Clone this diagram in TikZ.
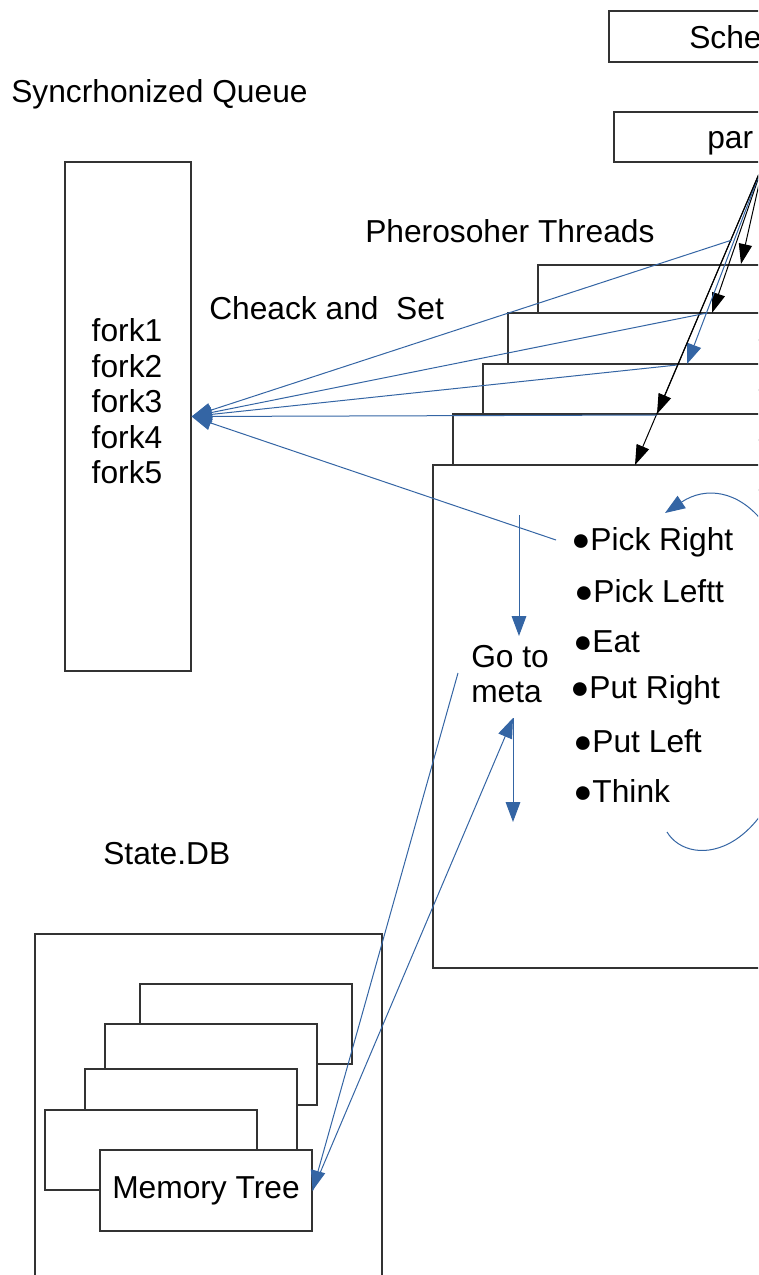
\documentclass[tikz,border=0pt]{standalone}
\usepackage{fontspec}
\setmainfont{Liberation Sans}
\usepackage{xcolor}
\usetikzlibrary{positioning, arrows.meta, fit}

\definecolor{lineblue}{HTML}{3465A4}
\definecolor{edge}{HTML}{333333}

\begin{document}
\begin{tikzpicture}[
    x=0.75pt, y=-0.75pt,
    box/.style={draw=edge, fill=white, line width=0.9pt, inner sep=0pt},
    txt/.style={inner sep=0pt, font=\fontsize{23.8}{26.5}\selectfont},
    item/.style={txt, anchor=base west},
    blk/.style={-{Triangle[length=15pt, width=10pt]}, line width=0.75pt, black},
    blu/.style={-{Triangle[length=15pt, width=11pt]}, line width=0.75pt, lineblue},
]
\useasboundingbox (0,0) rectangle (758,1275);
\clip (0,0) rectangle (758,1275);

% Scheduler / par
\node[box, fit={(609,11) (900,62)}] (sched) {};
\node[item] (schedtxt) at (689,48) {Sche};
\node[box, fit={(614,112) (900,162)}] (par) {};
\node[item] (partxt) at (707,148) {par};

% Queue of forks
\node[item] (qlabel) at (11,102) {Syncrhonized Queue};
\node[box, fit={(65,162) (191,671)}] (queue) {};
\foreach \i/\yy in {1/341, 2/377, 3/412, 4/448, 5/483}
    \node[txt, anchor=base] (fork\i) at (127,\yy) {fork\i};

% Thread stack
\node[item] (thlabel) at (365,242) {Pherosoher Threads};
\node[item] (caslabel) at (209,319) {Cheack and\ \ Set};
\node[box, fit={(538,265) (900,340)}] (th1) {};
\node[box, fit={(508,313) (900,390)}] (th2) {};
\node[box, fit={(483,364) (900,440)}] (th3) {};
\node[box, fit={(453,414) (900,490)}] (th4) {};
\node[box, fit={(433,465) (900,968)}] (th5) {};

% Steps of a thread
\node[item] (pickr) at (571,550) {●Pick Right};
\node[item] (pickl) at (574,602) {●Pick Leftt};
\node[item] (eat) at (573,652) {●Eat};
\node[item] (putr) at (570,698) {●Put Right};
\node[item] (putl) at (573,752) {●Put Left};
\node[item] (think) at (573,802) {●Think};
\node[txt, anchor=north west, align=left] (goto) at (471,645) {Go to\\meta};

% State.DB
\node[item] (dblabel) at (103,864) {State.DB};
\node[box, fit={(35,934) (382,1320)}] (statedb) {};
\node[box, fit={(140,984) (352,1064)}] (mem1) {};
\node[box, fit={(105,1024) (317,1105)}] (mem2) {};
\node[box, fit={(85,1069) (297,1150)}] (mem3) {};
\node[box, fit={(45,1110) (257,1190)}] (mem4) {};
\node[box, minimum width=159pt, minimum height=60.75pt,
      font=\fontsize{23.8}{26.5}\selectfont] (memtree) at (206,1190.5) {Memory Tree};

% Arrows from par down to the threads
\coordinate (fan) at (764,162);
\coordinate (in1) at (741,264);
\coordinate (in2) at (712,313);
\coordinate (in3) at (687,364);
\coordinate (in4) at (657,414);
\coordinate (in5) at (635,465);
\draw[blk] (fan) -- (in1);
\draw[blk] (fan) -- (in2);
\draw[blu] (fan) -- (in3);
\draw[blk] (fan) -- (in4);
\draw[blk] (fan) -- (in5);

% Check and set on the queue
\coordinate (cas1) at (732,240);
\coordinate (cas2) at (707,313);
\coordinate (cas3) at (677,365);
\coordinate (cas4) at (657,415);
\coordinate (cas5) at (556,540);
\foreach \i in {1,...,5}
    \draw[blu] (cas\i) -- (queue.east);

% Go to meta
\coordinate (g1) at (519,515);
\coordinate (g2) at (519,636);
\coordinate (g3) at (513,718);
\coordinate (g4) at (513,822);
\coordinate (g5) at (458,673);
\draw[blu] (g1) -- (g2);
\draw[blu] (g3) -- (g4);
\draw[blu] (g5) -- (memtree.east);
\draw[blu] (memtree.east) -- (g3);

% Loop back to the first step
\coordinate (lp1) at (667,832);
\coordinate (lp2) at (665,513);
\draw[blu] (lp1) .. controls (690,870) and (780,860) .. (800,700)
    .. controls (810,520) and (730,470) .. (lp2);

\end{tikzpicture}
\end{document}
